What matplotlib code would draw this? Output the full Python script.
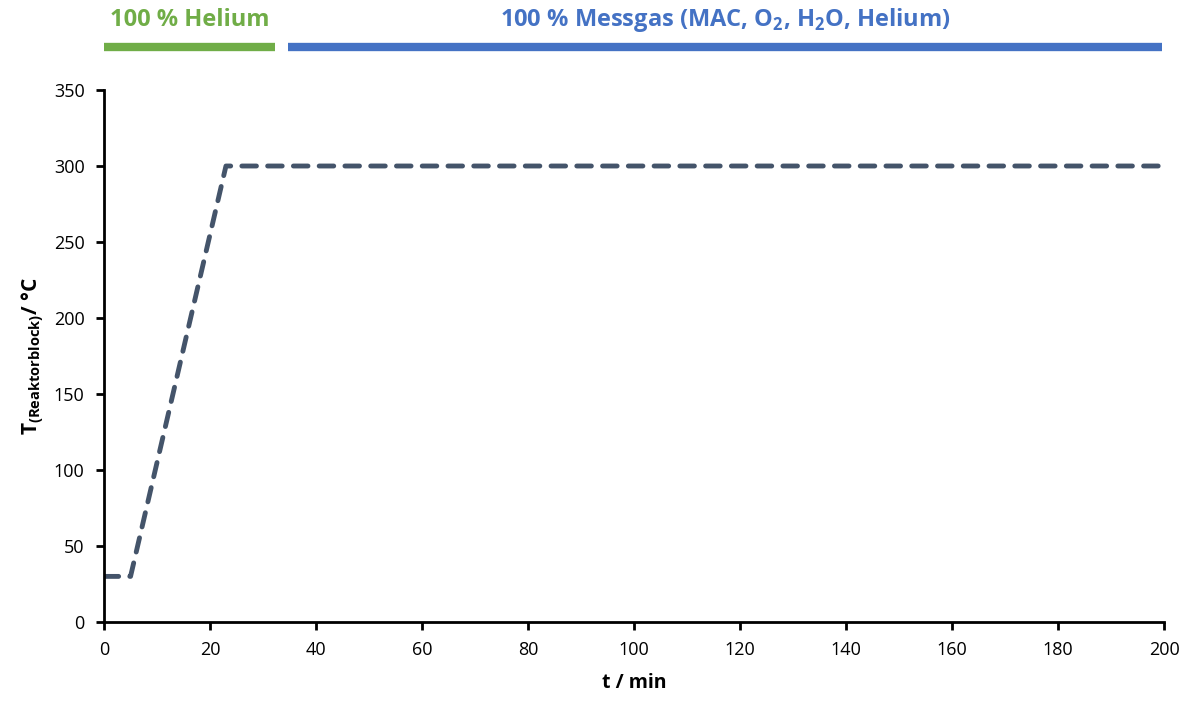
import matplotlib.pyplot as plt

plt.rcParams['font.family'] = ['Open Sans', 'DejaVu Sans']
plt.rcParams['mathtext.fontset'] = 'custom'
plt.rcParams['mathtext.rm'] = 'Open Sans'
plt.rcParams['mathtext.bf'] = 'Open Sans:bold'

# Temperaturprofil Reaktorblock
t_min = [0, 5, 23, 200]
temp_c = [30, 30, 300, 300]

# Gasphasen oben
phase_labels = ["100 % Helium",
                r"100 % Messgas (MAC, O$_\mathbf{2}$, H$_\mathbf{2}$O, Helium)"]
phase_start = [0, 34.7]
phase_end = [32.3, 199.6]
phase_colors = ["#70AD47", "#4472C4"]

x_ticks = [0, 20, 40, 60, 80, 100, 120, 140, 160, 180, 200]
y_ticks = [0, 50, 100, 150, 200, 250, 300, 350]

fig = plt.figure(figsize=(11.96, 7.01), dpi=100)
ax = fig.add_axes([0.087, 0.1127, 0.8863, 0.7589])

ax.plot(t_min, temp_c, color="#44546A", lw=3.5, ls=(0, (3, 2.3)),
        solid_capstyle="round", dash_capstyle="round")

for lab, s, e, c in zip(phase_labels, phase_start, phase_end, phase_colors):
    ax.plot([s, e], [378.3, 378.3], color=c, lw=6, clip_on=False,
            solid_capstyle="butt")
    ax.text((s + e) / 2, 396, lab, color=c, fontsize=17, fontweight="bold",
            ha="center", va="center", clip_on=False)

ax.set_xlim(0, 200)
ax.set_ylim(0, 350)
ax.set_xticks(x_ticks)
ax.set_yticks(y_ticks)
ax.tick_params(direction="out", length=6, width=2, labelsize=13, pad=8)
for side in ["top", "right"]:
    ax.spines[side].set_visible(False)
for side in ["left", "bottom"]:
    ax.spines[side].set_linewidth(2)

ax.set_xlabel("t / min", fontsize=14, fontweight="bold", labelpad=10)
ax.set_ylabel(r"T$_{\mathbf{(Reaktorblock)}}$/ °C", fontsize=15,
              fontweight="bold", labelpad=6)

fig.savefig("out.png", dpi=100)
